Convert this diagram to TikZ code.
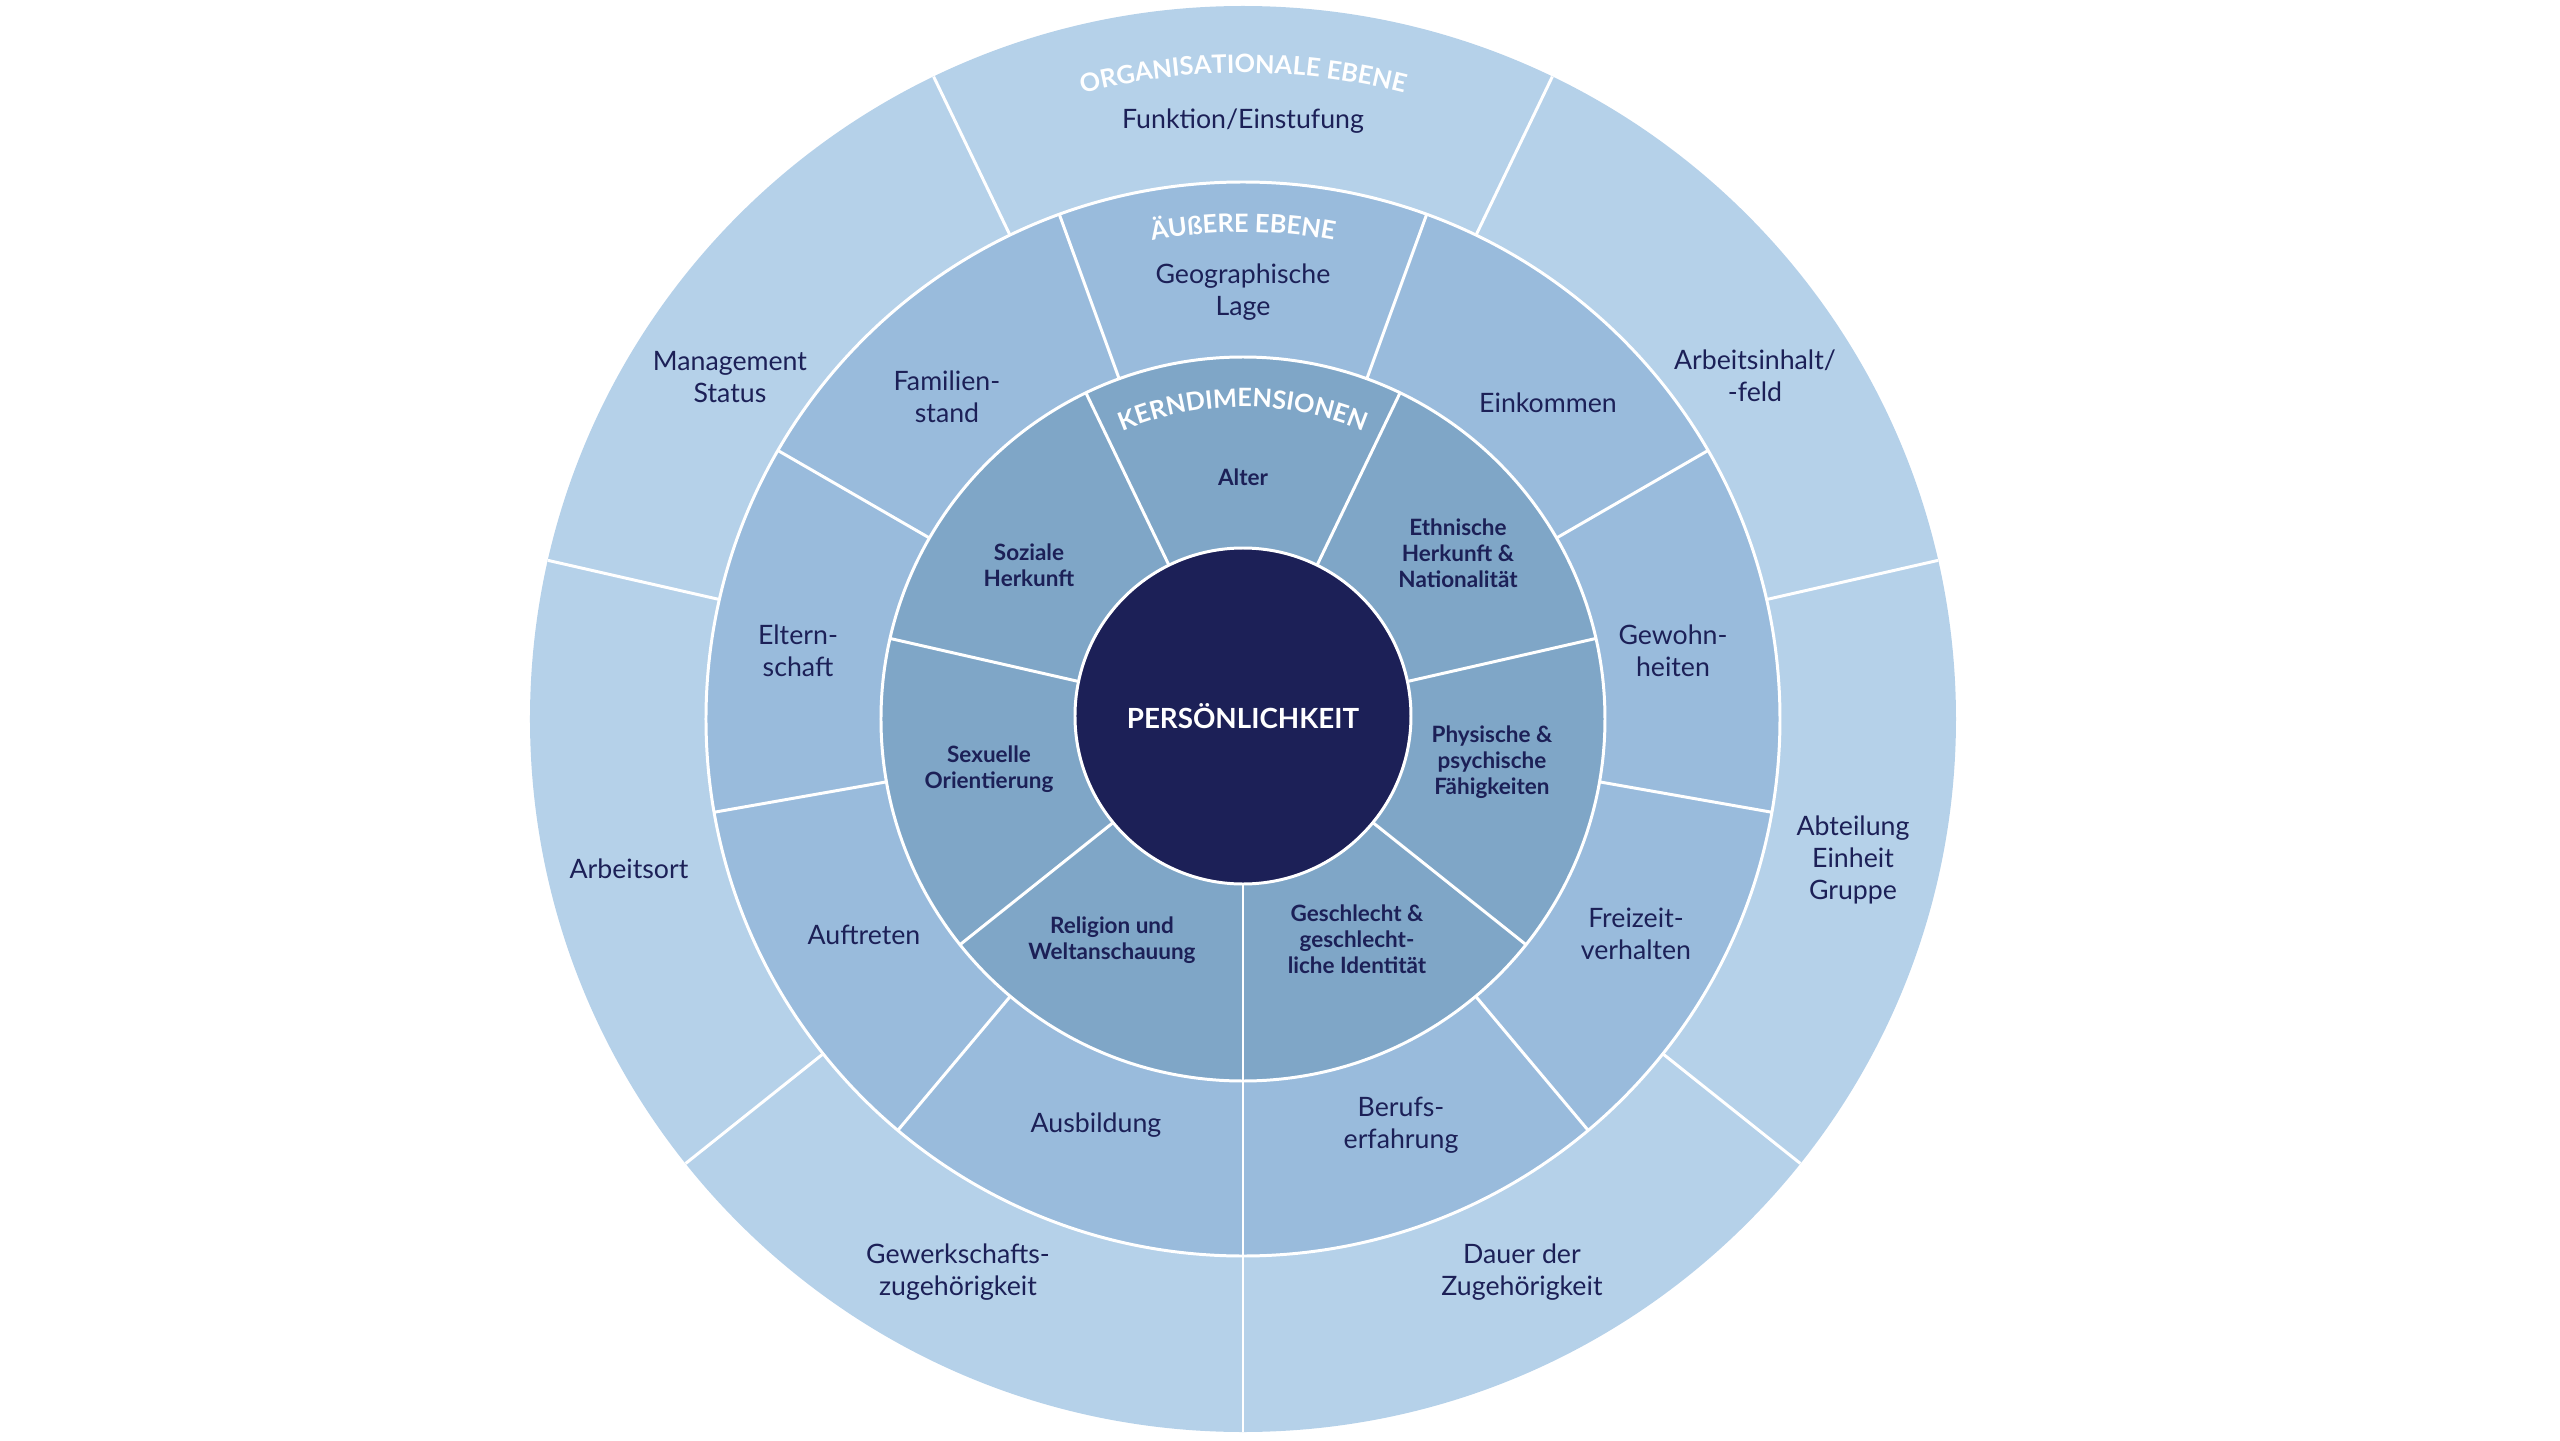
\documentclass[tikz,border=0pt]{standalone}
\usepackage{fontspec}
\setmainfont{Lato}
\usetikzlibrary{decorations.text}

\definecolor{navy}{HTML}{1C2057}
\definecolor{kernblue}{HTML}{7FA6C7}
\definecolor{aussenblue}{HTML}{99BBDC}
\definecolor{orgablue}{HTML}{B5D1E9}
\newcommand\ringtitle{\bfseries\fontsize{7.2}{8}\selectfont\color{white}}

\begin{document}
\begin{tikzpicture}[x=1cm,y=1cm,
  lab/.style={text=navy,align=center,font=\fontsize{7.6}{9.1}\selectfont},
  kernlab/.style={text=navy,align=center,font=\bfseries\fontsize{6.4}{7.4}\selectfont},
  sep/.style={white,line width=0.85pt}]
  \useasboundingbox (-12.43,-7.21) rectangle (13.17,7.19);

  % drei Ringe
  \fill[orgablue] (0,0) circle (7.13);
  \fill[aussenblue] (0,0) circle (5.37);
  \fill[kernblue] (0,0) circle (3.62);
  \foreach \a in {0,...,6} {
    \draw[sep] ({270+\a*360/7}:5.37) -- ({270+\a*360/7}:7.13);
    \draw[sep] ({270+\a*360/7}:1.6) -- ({270+\a*360/7}:3.62);
  }
  \foreach \a in {0,...,8}
    \draw[sep] ({270+\a*40}:3.62) -- ({270+\a*40}:5.37);
  \draw[sep] (0,0) circle (5.37) (0,0) circle (3.62);

  \node[circle,fill=navy,draw=white,line width=0.85pt,minimum size=3.36cm,
    inner sep=0pt,text=white,font=\bfseries\fontsize{7.9}{9}\selectfont]
    (person) at (0,0.03) {PERSÖNLICHKEIT};

  % Ringtitel
  \path[decorate,decoration={text along path,text align=center,
    text={|\ringtitle|ORGANISATIONALE EBENE}}]
    (135:6.46) arc[start angle=135,end angle=45,radius=6.46];
  \path[decorate,decoration={text along path,text align=center,
    text={|\ringtitle|ÄUßERE EBENE}}]
    (135:4.87) arc[start angle=135,end angle=45,radius=4.87];
  \path[decorate,decoration={text along path,text align=center,
    text={|\ringtitle|KERNDIMENSIONEN}}]
    (140:3.12) arc[start angle=140,end angle=40,radius=3.12];

  % organisationale Ebene
  \node[lab] (funktion) at (0,5.98) {Funktion/Einstufung};
  \node[lab] (arbeitsinhalt) at (5.12,3.43) {Arbeitsinhalt/\\-feld};
  \node[lab] (abteilung) at (6.10,-1.41) {Abteilung\\Einheit\\Gruppe};
  \node[lab] (dauer) at (2.79,-5.53) {Dauer der\\Zugehörigkeit};
  \node[lab] (gewerkschaft) at (-2.85,-5.53) {Gewerkschafts-\\zugehörigkeit};
  \node[lab] (arbeitsort) at (-6.14,-1.50) {Arbeitsort};
  \node[lab] (management) at (-5.13,3.42) {Management\\Status};

  % aeussere Ebene
  \node[lab] (geo) at (0,4.27) {Geographische\\Lage};
  \node[lab] (einkommen) at (3.05,3.16) {Einkommen};
  \node[lab] (gewohnheit) at (4.30,0.68) {Gewohn-\\heiten};
  \node[lab] (freizeit) at (3.93,-2.15) {Freizeit-\\verhalten};
  \node[lab] (beruf) at (1.58,-4.06) {Berufs-\\erfahrung};
  \node[lab] (ausbildung) at (-1.47,-4.06) {Ausbildung};
  \node[lab] (auftreten) at (-3.79,-2.16) {Auftreten};
  \node[lab] (eltern) at (-4.45,0.68) {Eltern-\\schaft};
  \node[lab] (familie) at (-2.96,3.22) {Familien-\\stand};

  % Kerndimensionen
  \node[kernlab] (alter) at (0,2.42) {Alter};
  \node[kernlab] (ethnie) at (2.15,1.66) {Ethnische\\Herkunft \&\\Nationalität};
  \node[kernlab] (faehigkeit) at (2.49,-0.43) {Physische \&\\psychische\\Fähigkeiten};
  \node[kernlab] (geschlecht) at (1.14,-2.20) {Geschlecht \&\\geschlecht-\\liche Identität};
  \node[kernlab] (religion) at (-1.31,-2.21) {Religion und\\Weltanschauung};
  \node[kernlab] (orientierung) at (-2.54,-0.50) {Sexuelle\\Orientierung};
  \node[kernlab] (sozial) at (-2.14,1.54) {Soziale\\Herkunft};
\end{tikzpicture}
\end{document}
